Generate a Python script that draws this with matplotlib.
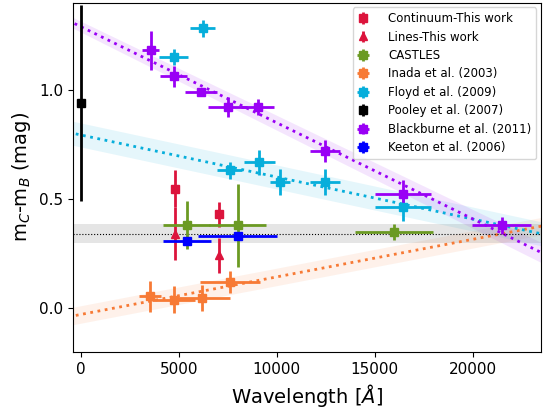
import numpy as np
import matplotlib.pyplot as plt

# colours
c_this = "#dc143c"
c_castles = "#6b9a23"
c_inada = "#f77a35"
c_floyd = "#06aedb"
c_pooley = "black"
c_black = "#9900f5"
c_keeton = "blue"

# This work
cont_x = [4800, 7050]
cont_y = [0.548, 0.430]
cont_yerr = [0.085, 0.057]
lines_x = [4800, 7050]
lines_y = [0.342, 0.242]
lines_yerr = [0.12, 0.08]

# CASTLES
castles_x = [5410, 8000, 15990]
castles_y = [0.380, 0.380, 0.350]
castles_xerr = [1200, 1470, 1980]
castles_yerr = [0.11, 0.19, 0.035]

# Inada et al. (2003)
inada_x = [3530, 4740, 6200, 7610]
inada_y = [0.055, 0.040, 0.048, 0.120]
inada_xerr = [560, 1100, 1420, 1530]
inada_yerr = [0.07, 0.062, 0.06, 0.052]

# Floyd et al. (2009)
floyd_x = [6210, 4730, 7610, 9110, 10160, 12460, 16460]
floyd_y = [1.282, 1.152, 0.633, 0.670, 0.580, 0.580, 0.462]
floyd_xerr = [640, 740, 640, 790, 510, 780, 1420]
floyd_yerr = [0.038, 0.038, 0.039, 0.057, 0.06, 0.06, 0.06]

# Pooley et al. (2007)
pooley_x = [0]
pooley_y = [0.94]
pooley_yerr = [0.45]

# Blackburne et al. (2011)
black_x = [3560, 4730, 6130, 7490, 9020, 12460, 16460, 21490]
black_y = [1.182, 1.063, 0.992, 0.922, 0.922, 0.722, 0.522, 0.380]
black_xerr = [420, 700, 800, 980, 825, 765, 1420, 1500]
black_yerr = [0.09, 0.047, 0.01, 0.047, 0.035, 0.05, 0.065, 0.038]

# Keeton et al. (2006)
keeton_x = [5410, 8000]
keeton_y = [0.308, 0.333]
keeton_xerr = [1220, 2000]
keeton_yerr = [0.01, 0.01]

# fits: intercept, slope, half width at 0, growth of half width
fit_black = [1.29, -4.4e-5, 0.025, 0.9e-6]
fit_floyd = [0.794, -1.925e-5, 0.055, 0.0]
fit_inada = [-0.028, 1.72e-5, 0.04, 0.0]
mean_level = 0.342
mean_err = 0.043

fig = plt.figure(figsize=(5.48, 4.09), dpi=100)
ax = fig.add_axes([0.1327, 0.1394, 0.854, 0.8540])

xx = np.linspace(-1000, 25000, 200)
for (a, b, da, db), col in [(fit_inada, c_inada), (fit_floyd, c_floyd), (fit_black, c_black)]:
    yy = a + b * xx
    hw = da + db * xx
    ax.fill_between(xx, yy - hw, yy + hw, color=col, alpha=0.1, lw=0)
    ax.plot(xx, yy, ls=":", color=col, lw=2)

ax.axhspan(mean_level - mean_err, mean_level + mean_err, color="gray", alpha=0.2, lw=0)
ax.axhline(mean_level, color="black", ls=":", lw=0.8)

kw = dict(ls="none", elinewidth=2, markersize=6, capsize=0)
ax.errorbar(cont_x, cont_y, yerr=cont_yerr, fmt="s", color=c_this, label="Continuum-This work", **kw)
ax.errorbar(lines_x, lines_y, yerr=lines_yerr, fmt="^", color=c_this, label="Lines-This work", **kw)
ax.errorbar(castles_x, castles_y, xerr=castles_xerr, yerr=castles_yerr, fmt="s", color=c_castles, label="CASTLES", **kw)
ax.errorbar(inada_x, inada_y, xerr=inada_xerr, yerr=inada_yerr, fmt="s", color=c_inada, label="Inada et al. (2003)", **kw)
ax.errorbar(floyd_x, floyd_y, xerr=floyd_xerr, yerr=floyd_yerr, fmt="s", color=c_floyd, label="Floyd et al. (2009)", **kw)
ax.errorbar(pooley_x, pooley_y, yerr=pooley_yerr, fmt="s", color=c_pooley, label="Pooley et al. (2007)", **kw)
ax.errorbar(black_x, black_y, xerr=black_xerr, yerr=black_yerr, fmt="s", color=c_black, label="Blackburne et al. (2011)", **kw)
ax.errorbar(keeton_x, keeton_y, xerr=keeton_xerr, yerr=keeton_yerr, fmt="s", color=c_keeton, label="Keeton et al. (2006)", **kw)

ax.set_xlim(-420, 23480)
ax.set_ylim(-0.2, 1.4)
ax.set_xticks([0, 5000, 10000, 15000, 20000])
ax.set_yticks([0.0, 0.5, 1.0])
ax.tick_params(labelsize=11)
ax.set_xlabel(r"Wavelength [$\AA$]", fontsize=14)
ax.set_ylabel(r"m$_C$-m$_B$ (mag)", fontsize=14)
ax.legend(loc="upper right", fontsize=8.5, handlelength=1.0, handletextpad=1.6,
          labelspacing=0.46, borderpad=0.4, borderaxespad=0.4)

fig.savefig("out.png", dpi=100)
